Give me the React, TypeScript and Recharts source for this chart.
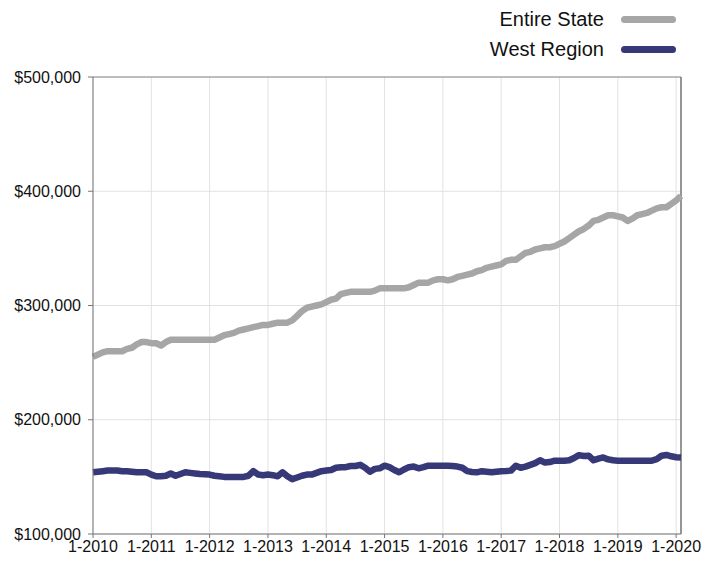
import React from "react";
import {
  LineChart,
  Line,
  XAxis,
  YAxis,
  CartesianGrid,
  ReferenceLine,
} from "recharts";

// monthly values in $1,000s, Jan 2010 .. Feb 2020
const entireState = [
  255, 257, 259, 260, 260, 260, 260, 262, 263, 266, 268, 268,
  267, 267, 265, 268, 270, 270, 270, 270, 270, 270, 270, 270,
  270, 270, 272, 274, 275, 276, 278, 279, 280, 281, 282, 283,
  283, 284, 285, 285, 285, 287, 291, 295, 298, 299, 300, 301,
  303, 305, 306, 310, 311, 312, 312, 312, 312, 312, 313, 315,
  315, 315, 315, 315, 315, 316, 318, 320, 320, 320, 322, 323,
  323, 322, 323, 325, 326, 327, 328, 330, 331, 333, 334, 335,
  336, 339, 340, 340, 343, 346, 347, 349, 350, 351, 351, 352,
  354, 356, 359, 362, 365, 367, 370, 374, 375, 377, 379, 379,
  378, 377, 374, 376, 379, 380, 381, 383, 385, 386, 386, 389,
  392, 396,
];

const westRegion = [
  154, 154.5, 155, 155.5, 155.5, 155.5, 155, 155, 154.5, 154, 154, 154,
  152, 150.5, 150.5, 151, 153, 151, 152.5, 154, 153.5, 153, 152.5, 152.3,
  152, 151, 150.5, 150, 150, 150, 150, 150, 151, 155, 152, 151.5,
  152, 151.5, 150.5, 154, 150.5, 148, 149.5, 151, 152, 152, 153.5, 155,
  155.5, 156, 158, 158.5, 158.5, 159.5, 159.5, 160.5, 158, 154.5, 157, 157.5,
  159.8, 158.5, 156, 154, 156.5, 158.5, 159, 157.5, 158.5, 159.8, 159.8, 159.8,
  159.8, 159.8, 159.5, 159, 158, 155, 154.3, 154, 155, 154.5, 154, 154.5,
  155, 155.2, 155.5, 159.8, 158, 159, 160.5, 162, 164.5, 162.5, 163, 164.2,
  164.2, 164.2, 164.5, 166.5, 169, 168.3, 168.5, 164.5, 166, 167, 165.3, 164.5,
  164.2, 164.2, 164.2, 164.2, 164.2, 164.2, 164.2, 164.2, 165.5, 168.5, 169.2, 168,
  167.2, 167,
];

const yearLabels = [
  "1-2010", "1-2011", "1-2012", "1-2013", "1-2014", "1-2015",
  "1-2016", "1-2017", "1-2018", "1-2019", "1-2020",
];
const yearTicks = yearLabels.map((_, i) => i * 12);
const valueTicks = [100000, 200000, 300000, 400000, 500000];

const data = entireState.map((v, i) => ({
  m: i,
  state: v * 1000,
  west: westRegion[i] * 1000,
}));

const FONT = "'Liberation Sans', Arial, Helvetica, sans-serif";
const GRAY = "#a6a6a6";
const NAVY = "#373878";
const lastMonth = entireState.length - 1;

const series = [
  { label: "Entire State", color: GRAY },
  { label: "West Region", color: NAVY },
];

function ChartLegend() {
  return (
    <div
      style={{
        position: "absolute",
        top: 4,
        right: 40,
        fontFamily: FONT,
      }}
    >
      {series.map((s) => (
        <div
          key={s.label}
          style={{
            display: "flex",
            alignItems: "center",
            justifyContent: "flex-end",
            height: 30,
          }}
        >
          <span style={{ fontSize: 20, color: "#111", marginRight: 17 }}>
            {s.label}
          </span>
          <span
            style={{
              display: "inline-block",
              width: 55,
              height: 7,
              borderRadius: 4,
              background: s.color,
            }}
          />
        </div>
      ))}
    </div>
  );
}

export default function App() {
  return (
    <div style={{ position: "absolute", left: 0, top: 0, width: 716, height: 562 }}>
      <LineChart
        width={716}
        height={562}
        data={data}
        margin={{ top: 77, right: 35, bottom: 0, left: 0 }}
      >
        <CartesianGrid stroke="#e2e2e2" strokeWidth={1} />
        <XAxis
          dataKey="m"
          type="number"
          domain={[0, lastMonth]}
          ticks={yearTicks}
          tickFormatter={(m) => yearLabels[m / 12]}
          height={28}
          tickSize={4}
          tickMargin={3}
          stroke="#777"
          tick={{ fill: "#111", fontSize: 16, fontFamily: FONT }}
          interval={0}
        />
        <YAxis
          domain={[100000, 500000]}
          ticks={valueTicks}
          tickFormatter={(v) => "$" + v.toLocaleString("en-US")}
          width={93}
          tickSize={5}
          tickMargin={7}
          stroke="#777"
          tick={{ fill: "#111", fontSize: 16, fontFamily: FONT }}
          interval={0}
        />
        <ReferenceLine y={500000} stroke="#888" />
        <ReferenceLine x={lastMonth} stroke="#777" strokeWidth={1.5} />
        <Line
          type="linear"
          dataKey="state"
          name="Entire State"
          stroke={GRAY}
          strokeWidth={6.5}
          strokeLinejoin="round"
          dot={false}
          isAnimationActive={false}
        />
        <Line
          type="linear"
          dataKey="west"
          name="West Region"
          stroke={NAVY}
          strokeWidth={6.5}
          strokeLinejoin="round"
          dot={false}
          isAnimationActive={false}
        />
      </LineChart>
      <ChartLegend />
    </div>
  );
}
